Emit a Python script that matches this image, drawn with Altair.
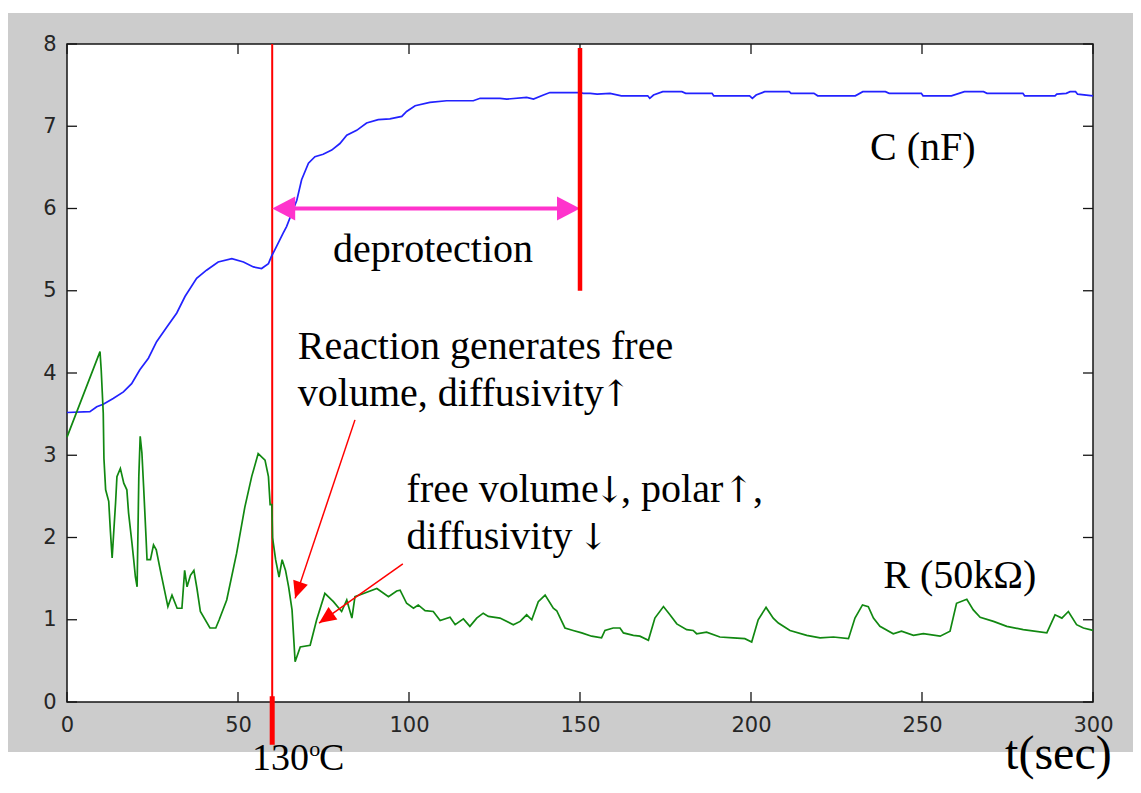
import math
import altair as alt
import pandas as pd

# ---------------- data ----------------
c_t = [0, 6.7, 8.7, 10.6, 13.5, 16.5, 18.9, 21.3, 23.8, 26.2, 29.2, 32.1, 34.5, 37.9,
       40.8, 44.2, 48.2, 51.6, 54.5, 56.9, 58.9, 59.8, 60.8, 63.2, 64.2, 67.2, 68.6, 70.6,
       72.5, 74.9, 77.4, 79.8, 81.8, 84.7, 87.6, 91.0, 94.4, 97.9, 99.3, 101.8, 106.1,
       111.0, 118.8, 120.8, 126.6, 128.6, 134.4, 136.4, 139.3, 141.2, 150.0, 151.0, 153.0,
       155.0, 158.8, 162.1, 169.8, 170.4, 171.5, 174.2, 179.8, 180.9, 188.6, 189.1, 199.6,
       200.4, 201.5, 204.0, 211.2, 211.7, 218.4, 219.5, 230.5, 232.7, 239.3, 240.4, 249.8,
       250.3, 258.6, 262.4, 268.0, 269.0, 279.5, 280.0, 288.9, 289.4, 292.2, 293.3, 294.9,
       295.5, 300.0]
c_val = [3.52, 3.53, 3.59, 3.62, 3.69, 3.77, 3.87, 4.04, 4.18, 4.38, 4.56, 4.73, 4.93, 5.15,
         5.25, 5.35, 5.39, 5.35, 5.29, 5.27, 5.33, 5.42, 5.50, 5.70, 5.78, 6.10, 6.35, 6.55,
         6.63, 6.66, 6.71, 6.79, 6.89, 6.95, 7.04, 7.08, 7.09, 7.12, 7.18, 7.25, 7.29,
         7.31, 7.31, 7.34, 7.34, 7.33, 7.35, 7.33, 7.38, 7.41, 7.41, 7.40, 7.40,
         7.39, 7.40, 7.37, 7.37, 7.34, 7.38, 7.42, 7.42, 7.40, 7.40, 7.37, 7.37,
         7.34, 7.38, 7.42, 7.42, 7.40, 7.40, 7.37, 7.37, 7.42, 7.42, 7.40, 7.40,
         7.37, 7.37, 7.42, 7.42, 7.40, 7.40, 7.37, 7.37, 7.39, 7.40, 7.42, 7.42,
         7.39, 7.37]

r_t = [0, 9.65, 10.0, 10.6, 10.8, 11.3, 12.2, 12.7, 13.2, 13.7, 14.2, 14.6, 15.6, 16.6,
       17.5, 18.0, 19.0, 19.5, 20.0, 20.5, 21.0, 21.4, 21.9, 22.4, 23.1, 23.4, 24.4, 25.3,
       26.1, 27.3, 28.7, 29.5, 30.7, 32.2, 33.6, 34.4, 35.1, 36.1, 37.1, 38.0, 39.0, 41.8,
       43.5, 44.5, 46.7, 49.6, 52.0, 54.0, 55.9, 57.9, 58.9, 59.4, 59.9, 60.1, 61.0, 62.0,
       62.9, 63.9, 64.8, 65.8, 66.7, 68.2, 71.1, 73.0, 75.4, 77.9, 80.3, 81.8, 83.3, 84.2,
       86.7, 90.6, 94.0, 96.4, 97.4, 99.3, 101.3, 102.7, 104.7, 107.1, 109.1, 112.0, 113.5,
       115.9, 117.8, 119.8, 121.7, 123.2, 126.6, 130.5, 132.5, 134.4, 135.9, 137.8, 139.8,
       142.2, 143.2, 145.6, 148.0, 150.5, 153.4, 156.3, 157.3, 159.7, 161.7, 162.7, 165.6,
       167.5, 170.0, 171.9, 174.4, 176.3, 178.3, 181.2, 183.1, 184.1, 187.0, 190.9, 194.8,
       198.2, 200.2, 202.1, 204.4, 206.5, 208.0, 211.4, 216.3, 220.2, 224.1, 228.5, 230.4,
       232.6, 234.3, 235.8, 237.7, 241.6, 244.0, 247.5, 250.4, 255.3, 258.2, 260.1, 263.1,
       265.0, 267.0, 270.9, 274.8, 279.6, 286.5, 288.9, 290.9, 292.8, 295.2, 297.2, 300.0]
r_val = [3.22, 4.26, 4.04, 3.51, 2.96, 2.58, 2.44, 2.07, 1.75, 2.09, 2.42, 2.74, 2.84, 2.66,
         2.58, 2.30, 1.93, 1.73, 1.52, 1.40, 2.74, 3.23, 3.03, 2.62, 2.01, 1.73, 1.73, 1.91,
         1.85, 1.60, 1.32, 1.16, 1.30, 1.14, 1.14, 1.60, 1.40, 1.54, 1.60, 1.38, 1.10, 0.90,
         0.90, 1.00, 1.24, 1.81, 2.37, 2.74, 3.02, 2.94, 2.74, 2.40, 2.40, 2.00, 1.73, 1.52,
         1.73, 1.60, 1.40, 1.12, 0.49, 0.67, 0.69, 1.00, 1.32, 1.22, 1.10, 1.24, 1.02, 1.28,
         1.32, 1.38, 1.28, 1.35, 1.36, 1.20, 1.14, 1.18, 1.11, 1.10, 0.99, 1.03, 0.94,
         1.01, 0.92, 1.02, 1.08, 1.04, 1.02, 0.94, 0.98, 1.06, 1.00, 1.22, 1.30,
         1.14, 1.11, 0.90, 0.87, 0.84, 0.80, 0.78, 0.87, 0.90, 0.90, 0.84, 0.81,
         0.80, 0.75, 1.02, 1.16, 1.06, 0.95, 0.88, 0.87, 0.83, 0.85, 0.79, 0.78,
         0.77, 0.73, 1.00, 1.15, 1.02, 0.96, 0.87, 0.81, 0.78, 0.79, 0.77, 1.02,
         1.18, 1.16, 1.02, 0.92, 0.83, 0.86, 0.81, 0.83, 0.80, 0.86, 1.20, 1.25,
         1.12, 1.03, 0.98, 0.92, 0.88, 0.84, 1.06, 1.02, 1.10, 0.94, 0.90, 0.87]

x_ticks = [0, 50, 100, 150, 200, 250, 300]
y_ticks = [0, 1, 2, 3, 4, 5, 6, 7, 8]

# vertical markers: heating start (130 C) and end of deprotection
mark_t = [60, 60, 150]
mark_y1 = [8.0, 0.07, 7.95]
mark_y2 = [0.0, -0.52, 5.0]
mark_w = [2.0, 5.0, 4.5]

# deprotection double arrow
span_t = [60, 150]
span_y = 6.0

# annotation arrows (start -> tip)
arr_t0 = [84.2, 98.2]
arr_y0 = [3.43, 1.68]
arr_t1 = [66.7, 73.7]
arr_y1 = [1.26, 0.96]

# text labels (left aligned)
lab_text = ["deprotection", "C (nF)", "Reaction generates free", "volume, diffusivity",
            "free volume", ", polar", ",", "diffusivity", "R (50k\u03a9)",
            "130", "o", "C", "t(sec)"]
lab_t = [77.8, 234.8, 67.5, 67.5, 99.3, 162.0, 200.6, 99.3, 238.7, 54.1, 70.8, 73.7, 274.3]
lab_y = [5.35, 6.59, 4.17, 3.60, 2.435, 2.435, 2.435, 1.86, 1.39, -0.83, -0.66, -0.83, -0.82]
lab_fs = [40, 40, 40, 40, 40, 40, 40, 40, 40, 38, 22, 38, 48]

# up / down arrow glyphs inside the annotations (centred)
sym_text = ["\u2191", "\u2193", "\u2191", "\u2193"]
sym_t = [160.4, 158.6, 196.3, 153.8]
sym_y = [3.60, 2.435, 2.435, 1.86]

# ---------------- layout ----------------
W, H = 1026, 658
XD, YD = [0, 300], [0, 8]
PXX, PXY = W / (XD[1] - XD[0]), H / (YD[1] - YD[0])
PAD = {"left": 59, "top": 36, "right": 40, "bottom": 79}

xs = alt.Scale(domain=XD, nice=False, zero=False)
ys = alt.Scale(domain=YD, nice=False, zero=False)
x_axis = alt.Axis(values=x_ticks, ticks=False, domain=False, grid=False, title=None,
                  labelFont="DejaVu Sans", labelFontSize=21, labelColor="#262626",
                  labelPadding=12, labelFlush=False, labelOverlap=False, zindex=1)
y_axis = alt.Axis(values=y_ticks, ticks=False, domain=False, grid=False, title=None,
                  labelFont="DejaVu Sans", labelFontSize=21, labelColor="#262626",
                  labelPadding=11, labelOverlap=False, zindex=1)


def X(f):
    return alt.X(f, type="quantitative", scale=xs, axis=x_axis)


def Y(f):
    return alt.Y(f, type="quantitative", scale=ys, axis=y_axis)


one = pd.DataFrame({"k": [0]})

gray_bg = alt.Chart(one).mark_rect(color="#cccccc").encode(
    x=alt.value(-PAD["left"]), x2=alt.value(W + PAD["right"]), y=alt.value(-31), y2=alt.value(H + 50))
frame = alt.Chart(one).mark_rect(fill="white", stroke="#151515", strokeWidth=1.5).encode(
    x=alt.value(0), x2=alt.value(W), y=alt.value(0), y2=alt.value(H))

xt = pd.DataFrame({"t": x_ticks})
yt = pd.DataFrame({"v": y_ticks})
tick_style = dict(color="#151515", strokeWidth=1.3)
ticks_b = alt.Chart(xt).mark_rule(**tick_style).encode(x=X("t"), y=alt.value(H), y2=alt.value(H - 10))
ticks_t = alt.Chart(xt).mark_rule(**tick_style).encode(x=X("t"), y=alt.value(0), y2=alt.value(10))
ticks_l = alt.Chart(yt).mark_rule(**tick_style).encode(y=Y("v"), x=alt.value(0), x2=alt.value(10))
ticks_r = alt.Chart(yt).mark_rule(**tick_style).encode(y=Y("v"), x=alt.value(W), x2=alt.value(W - 10))

mk = pd.DataFrame({"t": mark_t, "y1": mark_y1, "y2": mark_y2, "w": mark_w})
thin_red = alt.Chart(mk.iloc[[0]]).mark_rule(color="#ff0000", strokeWidth=2).encode(
    x=X("t"), y=Y("y1"), y2="y2")
thick_red = alt.Chart(mk.iloc[1:]).mark_rule(color="#ff0000").encode(
    x=X("t"), y=Y("y1"), y2="y2", strokeWidth=alt.StrokeWidth("w:Q", scale=None))

cdf = pd.DataFrame({"t": c_t, "v": c_val})
rdf = pd.DataFrame({"t": r_t, "v": r_val})
c_line = alt.Chart(cdf).mark_line(color="#2222ff", strokeWidth=1.7).encode(x=X("t"), y=Y("v"))
r_line = alt.Chart(rdf).mark_line(color="#118811", strokeWidth=1.7).encode(x=X("t"), y=Y("v"))

# magenta double arrow
head_len = 23
span_df = pd.DataFrame({"t0": [span_t[0] + (head_len - 3) / PXX], "t1": [span_t[1] - (head_len - 3) / PXX],
                        "y": [span_y]})
span_line = alt.Chart(span_df).mark_rule(color="#ff33cc", strokeWidth=4).encode(
    x=X("t0"), x2="t1", y=Y("y"))
span_heads = alt.Chart(pd.DataFrame({"t": span_t, "y": [span_y, span_y], "a": [270, 90]})).mark_point(
    shape="M0,0L-1.05,2L1.05,2Z", size=head_len ** 2, filled=True, color="#ff33cc", opacity=1,
    strokeWidth=0).encode(x=X("t"), y=Y("y"), angle=alt.Angle("a:Q", scale=None))

# red annotation arrows
ang = []
for a0, b0, a1, b1 in zip(arr_t0, arr_y0, arr_t1, arr_y1):
    dx = (a1 - a0) * PXX
    dy = -(b1 - b0) * PXY
    ang.append(math.degrees(math.atan2(dx, -dy)) % 360)
adf = pd.DataFrame({"t0": arr_t0, "y0": arr_y0, "t1": arr_t1, "y1": arr_y1, "a": ang})
arr_lines = alt.Chart(adf).mark_rule(color="#ff0000", strokeWidth=1.5).encode(
    x=X("t0"), y=Y("y0"), x2="t1", y2="y1")
arr_heads = alt.Chart(adf).mark_point(
    shape="M0,0L-0.9,2L0.9,2Z", size=289, filled=True, color="#ff0000", opacity=1,
    strokeWidth=0).encode(x=X("t1"), y=Y("y1"), angle=alt.Angle("a:Q", scale=None))

ldf = pd.DataFrame({"label": lab_text, "t": lab_t, "y": lab_y, "fs": lab_fs})
labels = alt.Chart(ldf).mark_text(align="left", baseline="alphabetic", font="Liberation Serif",
                                  color="black").encode(
    x=X("t"), y=Y("y"), text="label:N", size=alt.Size("fs:Q", scale=None))

sdf = pd.DataFrame({"s": sym_text, "t": sym_t, "y": sym_y})
symbols = alt.Chart(sdf).mark_text(align="center", baseline="alphabetic", font="DejaVu Serif",
                                   fontSize=36, color="black").encode(
    x=X("t"), y=Y("y"), text="s:N")

chart = alt.layer(
    gray_bg, frame, ticks_b, ticks_t, ticks_l, ticks_r, thin_red, c_line, r_line,
    span_line, span_heads, thick_red, arr_lines, arr_heads, labels, symbols
).properties(
    width=W, height=H,
    padding=PAD,
    autosize=alt.AutoSizeParams(type="none"),
).configure_view(stroke=None).configure(background="white")

chart.save("out.html", embed_options={"renderer": "svg", "actions": False})
